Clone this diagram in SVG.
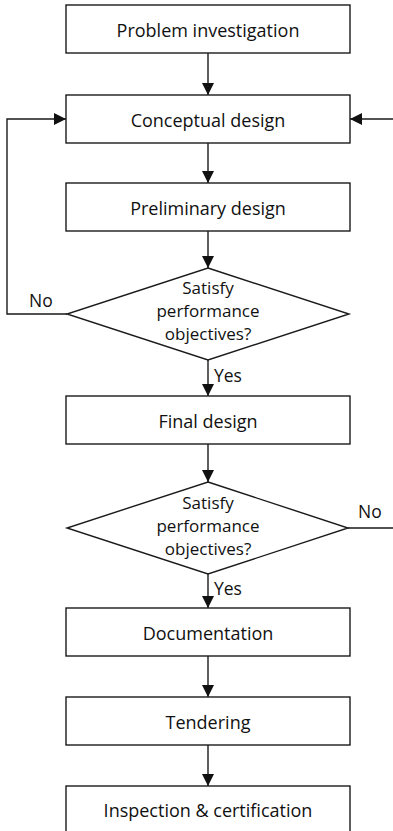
<svg xmlns="http://www.w3.org/2000/svg" width="393" height="831" viewBox="0 0 393 831">
<style>
.box{fill:#fff;stroke:#1a1a1a;stroke-width:1.4}
.t{font-family:"Open Sans",Lato,"Liberation Sans",sans-serif;font-size:18px;fill:#111;text-anchor:middle}
.d{font-family:"Open Sans",Lato,"Liberation Sans",sans-serif;font-size:17px;fill:#111;text-anchor:middle}
.l{font-family:"Open Sans",Lato,"Liberation Sans",sans-serif;font-size:17.5px;fill:#111}
.c{fill:none;stroke:#1a1a1a;stroke-width:1.4}
</style>
<defs>
<marker id="ah" markerUnits="userSpaceOnUse" markerWidth="12" markerHeight="12" viewBox="0 0 12 12" refX="12" refY="6" orient="auto">
<path d="M0,0 L12,6 L0,12 Z" fill="#111"/>
</marker>
</defs>
<rect width="393" height="831" fill="#fff"/>
<g id="connectors">
<line class="c" x1="208" y1="53" x2="208" y2="95" marker-end="url(#ah)"/>
<line class="c" x1="208" y1="143" x2="208" y2="183" marker-end="url(#ah)"/>
<line class="c" x1="208" y1="231" x2="208" y2="268" marker-end="url(#ah)"/>
<line class="c" x1="208" y1="360" x2="208" y2="396" marker-end="url(#ah)"/>
<line class="c" x1="208" y1="444" x2="208" y2="482" marker-end="url(#ah)"/>
<line class="c" x1="208" y1="574" x2="208" y2="608" marker-end="url(#ah)"/>
<line class="c" x1="208" y1="656" x2="208" y2="697" marker-end="url(#ah)"/>
<line class="c" x1="208" y1="745" x2="208" y2="786" marker-end="url(#ah)"/>
<polyline class="c" points="67,314 7,314 7,119 66,119" marker-end="url(#ah)"/>
<line class="c" x1="393" y1="119" x2="350" y2="119" marker-end="url(#ah)"/>
<line class="c" x1="348" y1="528" x2="393" y2="528"/>
<text class="l" x="29" y="307">No</text>
<text class="l" x="358" y="518">No</text>
<text class="l" x="214" y="382">Yes</text>
<text class="l" x="214" y="595">Yes</text>
</g>
<g id="problem">
<rect class="box" x="66" y="5" width="284" height="48"/>
<text class="t" x="208" y="37">Problem investigation</text>
</g>
<g id="conceptual">
<rect class="box" x="66" y="95" width="284" height="48"/>
<text class="t" x="208" y="127">Conceptual design</text>
</g>
<g id="preliminary">
<rect class="box" x="66" y="183" width="284" height="48"/>
<text class="t" x="208" y="215">Preliminary design</text>
</g>
<g id="decision1">
<polygon class="box" points="208,268 349,314 208,360 67,314"/>
<text class="d" x="208" y="294">Satisfy</text>
<text class="d" x="208" y="317">performance</text>
<text class="d" x="208" y="340">objectives?</text>
</g>
<g id="final">
<rect class="box" x="66" y="396" width="284" height="48"/>
<text class="t" x="208" y="428">Final design</text>
</g>
<g id="decision2">
<polygon class="box" points="208,482 348,528 208,574 67,528"/>
<text class="d" x="208" y="509">Satisfy</text>
<text class="d" x="208" y="532">performance</text>
<text class="d" x="208" y="555">objectives?</text>
</g>
<g id="documentation">
<rect class="box" x="66" y="608" width="284" height="48"/>
<text class="t" x="208" y="640">Documentation</text>
</g>
<g id="tendering">
<rect class="box" x="66" y="697" width="284" height="48"/>
<text class="t" x="208" y="729">Tendering</text>
</g>
<g id="inspection">
<rect class="box" x="66" y="786" width="284" height="50"/>
<text class="t" x="208" y="817">Inspection &amp; certification</text>
</g>
</svg>
